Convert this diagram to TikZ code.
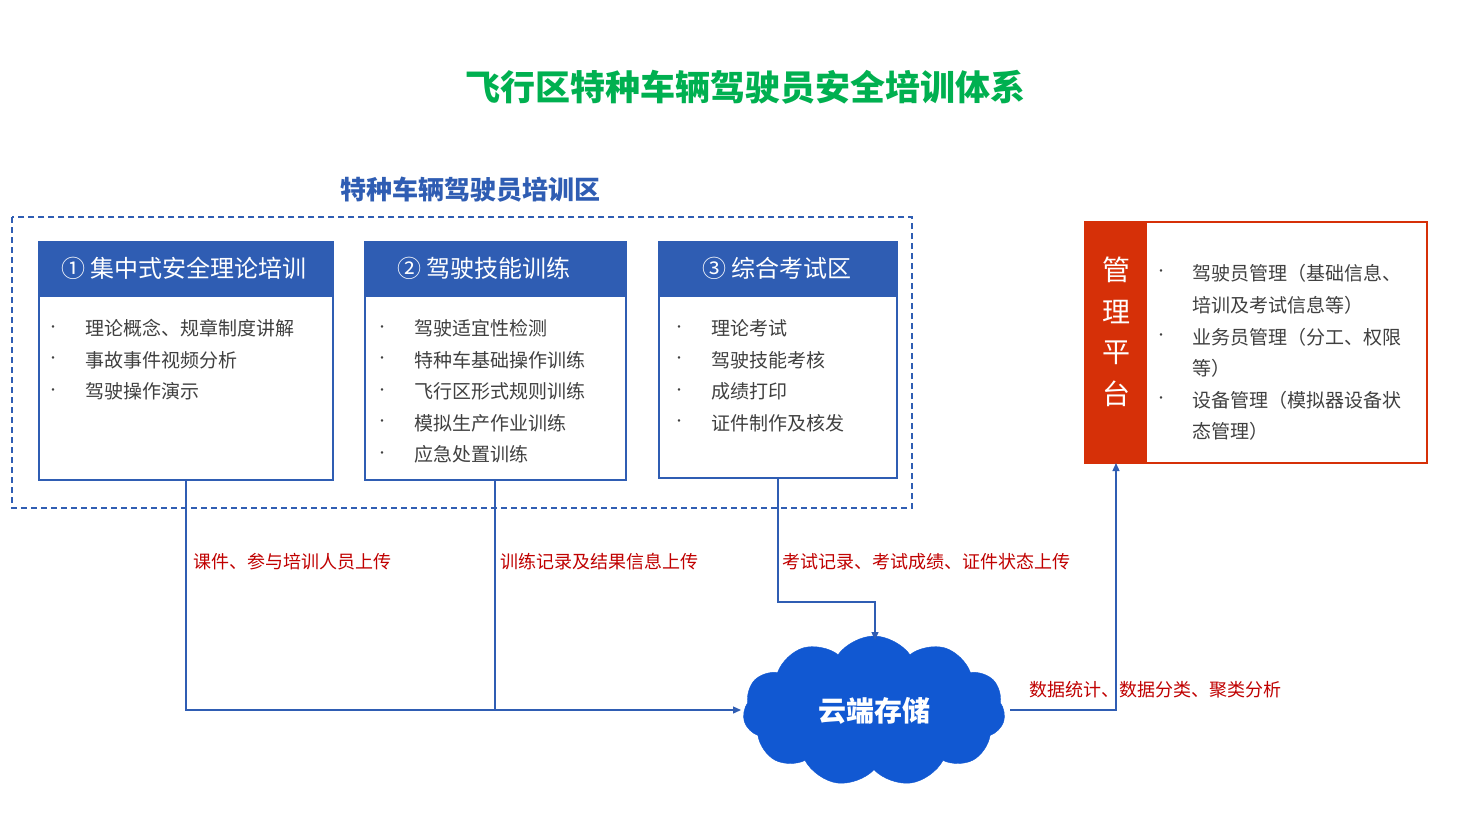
\documentclass[tikz,border=0pt]{standalone}
\usepackage{fontspec}
\setmainfont{Noto Sans CJK SC}
\usetikzlibrary{shapes.symbols,arrows.meta}
\definecolor{hdr}{HTML}{2F5DB3}
\definecolor{ttl}{HTML}{00B050}
\definecolor{redc}{HTML}{D63008}
\definecolor{lbl}{HTML}{C00000}
\definecolor{cld}{HTML}{1158D2}
\definecolor{txt}{HTML}{404040}
\begin{document}
\begin{tikzpicture}[x=1pt,y=-1pt,
 box/.style={draw=hdr,line width=2.5pt},
 hd/.style={fill=hdr,draw=hdr,line width=2.5pt},
 htxt/.style={text=white,font=\fontsize{24}{28}\selectfont},
 bl/.style={anchor=west,text=txt,font=\fontsize{19}{22}\selectfont,inner sep=0},
 dt/.style={anchor=center,text=txt,font=\fontsize{12}{12}\selectfont,inner sep=0},
 lab/.style={anchor=west,text=lbl,font=\fontsize{18}{22}\selectfont,inner sep=0},
 con/.style={draw=hdr,line width=1.3pt},
 arr/.style={con,-{Triangle[length=8pt,width=7pt]}}]
\useasboundingbox (0,0) rectangle (1484,823);
\fill[white] (0,0) rectangle (1484,823);
\node[text=ttl,font=\fontsize{35}{40}\selectfont\bfseries] (title) at (745,87) {飞行区特种车辆驾驶员安全培训体系};
\node[text=hdr,font=\fontsize{26}{30}\selectfont\bfseries] (sub) at (470,190) {特种车辆驾驶员培训区};
\draw[hdr,line width=1.5pt,dash pattern=on 6pt off 4pt] (12,217) rectangle (912,508);
% box 1
\draw[box] (39,242) rectangle (333,480);
\draw[hd] (39,242) rectangle (333,296);
\node[htxt] (h1) at (184,268) {① 集中式安全理论培训};
% box 2
\draw[box] (365,242) rectangle (626,480);
\draw[hd] (365,242) rectangle (626,296);
\node[htxt] (h2) at (484,268) {② 驾驶技能训练};
% box 3
\draw[box] (659,242) rectangle (897,478);
\draw[hd] (659,242) rectangle (897,296);
\node[htxt] (h3) at (777,268) {③ 综合考试区};
\foreach \t [count=\i] in {理论概念、规章制度讲解,事故事件视频分析,驾驶操作演示}{
 \node[dt] at (53,{297+31.5*\i}) {•}; \node[bl] at (85,{297+31.5*\i}) {\t};}
\foreach \t [count=\i] in {驾驶适宜性检测,特种车基础操作训练,飞行区形式规则训练,模拟生产作业训练,应急处置训练}{
 \node[dt] at (382,{297+31.5*\i}) {•}; \node[bl] at (414,{297+31.5*\i}) {\t};}
\foreach \t [count=\i] in {理论考试,驾驶技能考核,成绩打印,证件制作及核发}{
 \node[dt] at (679,{297+31.5*\i}) {•}; \node[bl] at (711,{297+31.5*\i}) {\t};}
% management
\draw[redc,line width=2.5pt] (1085,222) rectangle (1427,463);
\fill[redc] (1085,222) rectangle (1147,463);
\foreach \c/\y in {管/270,理/312,平/353,台/394}
 \node[text=white,font=\fontsize{28}{30}\selectfont] at (1116,\y) {\c};
\coordinate (mg) at (1116,463);
\foreach \t/\y in {驾驶员管理（基础信息、/273,培训及考试信息等）/305,业务员管理（分工、权限/337,等）/368,设备管理（模拟器设备状/400,态管理）/431}
 \node[bl] at (1192,\y) {\t};
\foreach \y in {273,337,400} \node[dt] at (1161,\y) {•};
% cloud
\node[cloud,cloud puffs=11,cloud puff arc=110,aspect=1.7,fill=cld,draw=cld,minimum width=262pt,minimum height=150pt,inner sep=0,
 text=white,font=\fontsize{28}{30}\selectfont\bfseries] (cl) at (874,711) {云端存储};
% connectors
\coordinate (b1) at (186,480);
\coordinate (b2) at (495,480);
\coordinate (b3) at (778,478);
\draw[con] (b1) |- (495,710);
\draw[con] (b2) -- (495,710);
\draw[arr] (495,710) -- (741,710);
\draw[arr] (b3) |- (875,602) -- (875,640);
\draw[arr] (1010,710) -| (mg);
\node[lab] at (193,562) {课件、参与培训人员上传};
\node[lab] at (500,562) {训练记录及结果信息上传};
\node[lab] at (782,562) {考试记录、考试成绩、证件状态上传};
\node[lab] at (1029,690) {数据统计、数据分类、聚类分析};
\end{tikzpicture}
\end{document}
